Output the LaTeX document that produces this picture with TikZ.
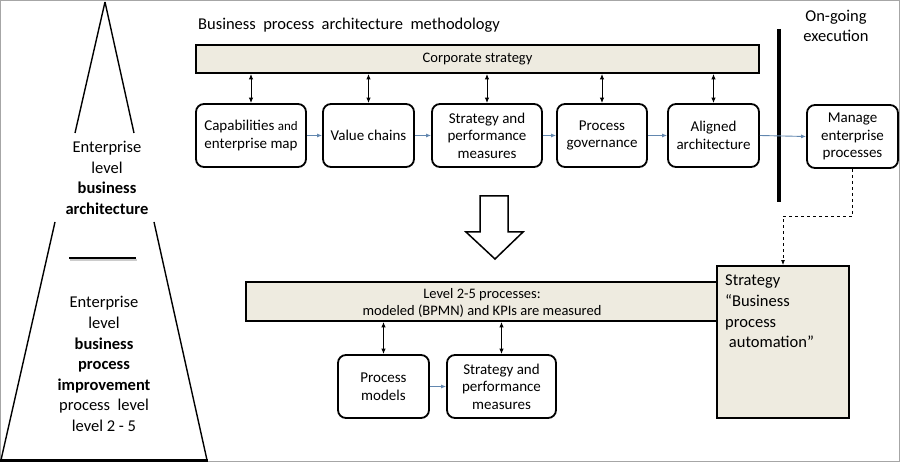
\documentclass[tikz,border=0pt]{standalone}
\usepackage{fontspec}
\setmainfont{Carlito}
\usetikzlibrary{arrows.meta}

\definecolor{barfill}{RGB}{238,235,224}
\definecolor{linkblue}{RGB}{98,135,175}

\begin{document}
\begin{tikzpicture}
  [x=1pt,y=-1pt,
   every node/.style={font=\fontsize{15}{17.5}\selectfont,align=center,inner sep=0pt},
   stepbox/.style={draw,line width=1.8pt,rounded corners=8pt},
   band/.style={draw,line width=1.8pt,fill=barfill},
   link/.style={-{Latex[length=5pt,width=4pt]},draw=linkblue,line width=0.9pt},
   both/.style={{Latex[length=5.5pt,width=4.5pt]}-{Latex[length=5.5pt,width=4.5pt]},line width=1pt},
   bigtext/.style={font=\fontsize{16.5}{20.6}\selectfont}]
  \useasboundingbox (0,0) rectangle (900,462);
  \draw[gray!70,line width=1pt] (0.5,0.5) rectangle (899.5,461.5);

  % pyramid on the left
  \coordinate (apex) at (105,2);
  \draw[line width=1.4pt] (apex) -- (75,133) (apex) -- (134,133);
  \draw[line width=1.4pt] (55,222) -- (1,460) (154,222) -- (207,460);
  \draw[line width=3pt] (0,460) -- (208,460);
  \draw[gray!40,line width=2pt] (70,260) -- (137,260);
  \draw[line width=1.8pt] (69,258) -- (136,258);
  \node[bigtext] (ealevel) at (107,178) {Enterprise\\level\\\textbf{business}\\\textbf{architecture}};
  \node[bigtext] (eplevel) at (104,364) {Enterprise\\level\\\textbf{business}\\\textbf{process}\\\textbf{improvement}\\process\ \ level\\level 2 - 5};

  % methodology
  \node[bigtext,anchor=west] (title) at (198,25) {Business\ \ process\ \ architecture\ \ methodology};
  \node[band,minimum width=563pt,minimum height=28pt,font=\fontsize{14.5}{17}\selectfont] (corp) at (477.5,59) {Corporate strategy};
  \node[stepbox,minimum width=110pt,minimum height=63pt] (cap) at (251,135.5) {Capabilities {\fontsize{13}{15}\selectfont and}\\enterprise map};
  \node[stepbox,minimum width=91pt,minimum height=63pt] (val) at (368.5,135.5) {Value chains};
  \node[stepbox,minimum width=110pt,minimum height=63pt] (spm) at (487,135.5) {Strategy and\\performance\\measures};
  \node[stepbox,minimum width=90pt,minimum height=63pt] (gov) at (602,135.5) {Process\\governance};
  \node[stepbox,minimum width=91pt,minimum height=63pt] (ali) at (713.5,135.5) {Aligned\\architecture};

  \foreach \stage in {cap,val,spm,gov,ali}
    \draw[both] (corp.south -| \stage) -- (\stage.north);
  \foreach \from/\to in {cap/val,val/spm,spm/gov,gov/ali}
    \draw[link] (\from.east) -- (\to.west);

  % on-going execution
  \node[bigtext] (ongoing) at (836,26) {On-going\\execution};
  \draw[line width=4pt] (779,29) -- (779,202);
  \node[stepbox,fill=white,minimum width=91pt,minimum height=63pt] (man) at (852.5,136.5) {Manage\\enterprise\\processes};
  \draw[link] (ali.east) -- (man.west);

  % change down to process level
  \draw[line width=1.5pt] (480,196) -- (508,196) -- (508,232) -- (523,232) -- (495,259) -- (466,232) -- (480,232) -- cycle;
  \node[band,minimum width=471pt,minimum height=39pt] (lvl) at (481.5,301.5) {};
  \node[font=\fontsize{14.5}{17}\selectfont] (lvltext) at (482,302.5) {Level 2-5 processes:\\modeled (BPMN) and KPIs are measured};
  \node[band,minimum width=132pt,minimum height=152pt] (strat) at (783,342) {};
  \node[bigtext,anchor=north west,align=left] (strattext) at (725,275) {Strategy\\``Business\\process\\\ automation''};
  \node[stepbox,minimum width=91pt,minimum height=63pt] (pmod) at (383.5,386.5) {Process\\models};
  \node[stepbox,minimum width=109pt,minimum height=63pt] (spm2) at (501.5,386.5) {Strategy and\\performance\\measures};

  \foreach \stage in {pmod,spm2}
    \draw[both] (lvl.south -| \stage) -- (\stage.north);
  \draw[link] (pmod.east) -- (spm2.west);

  \coordinate (bend) at (783,216);
  \draw[dashed,line width=0.9pt,-{Latex[length=5pt,width=4pt]}] (man.south) |- (bend) -- (strat.north);
\end{tikzpicture}
\end{document}
